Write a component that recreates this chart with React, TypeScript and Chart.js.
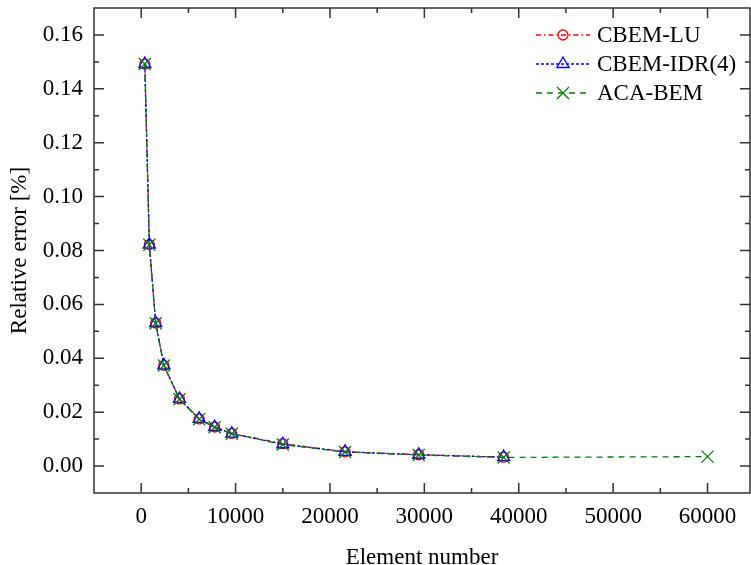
import React, { useEffect, useRef } from 'react';
import { Chart, registerables } from 'chart.js';

Chart.register(...registerables);

// ---- data ----
const elementNumbers = [384, 864, 1536, 2400, 4056, 6144, 7776, 9600, 15000, 21600, 29400, 38400];
const acaElementNumbers = [384, 864, 1536, 2400, 4056, 6144, 7776, 9600, 15000, 21600, 29400, 38400, 60000];
const luErrors = [0.1492, 0.0822, 0.0531, 0.0374, 0.0249, 0.0175, 0.0145, 0.0121, 0.0083, 0.0053, 0.0042, 0.0033];
const idrErrors = [0.1492, 0.0822, 0.0531, 0.0374, 0.0249, 0.0175, 0.0145, 0.012, 0.0081, 0.0053, 0.0042, 0.0033];
const acaErrors = [0.1492, 0.0821, 0.053, 0.0373, 0.0248, 0.0174, 0.0144, 0.012, 0.008, 0.0052, 0.0041, 0.0032, 0.0035];

const seriesNames = ['CBEM-LU', 'CBEM-IDR(4)', 'ACA-BEM'];

const xTicks = [0, 10000, 20000, 30000, 40000, 50000, 60000];
const xMinorTicks = [5000, 15000, 25000, 35000, 45000, 55000];
const yTicks = [0, 0.02, 0.04, 0.06, 0.08, 0.1, 0.12, 0.14, 0.16];
const yMinorTicks = [0.01, 0.03, 0.05, 0.07, 0.09, 0.11, 0.13, 0.15];

const FONT = 'Liberation Serif, "Times New Roman", serif';
const FONT_SIZE = 23;
const AXIS_COLOR = '#333333';

const RED = '#ff0000';
const BLUE = '#0000ff';
const GREEN = '#008000';

const legendItems = [
  { color: RED, dash: [5, 3, 1.5, 3], marker: 'circle' },
  { color: BLUE, dash: [3, 2], marker: 'triangle' },
  { color: GREEN, dash: [6, 5], marker: 'cross' },
];

function drawMarker(ctx: CanvasRenderingContext2D, kind: string, x: number, y: number) {
  ctx.setLineDash([]);
  ctx.beginPath();
  if (kind === 'circle') {
    ctx.arc(x, y, 5, 0, Math.PI * 2);
  } else if (kind === 'triangle') {
    const r = 7;
    for (let i = 0; i < 3; i++) {
      const a = (i * 2 * Math.PI) / 3;
      const px = x + Math.sin(a) * r;
      const py = y - Math.cos(a) * r;
      if (i === 0) ctx.moveTo(px, py);
      else ctx.lineTo(px, py);
    }
    ctx.closePath();
  } else {
    const h = 6;
    ctx.moveTo(x - h, y - h);
    ctx.lineTo(x + h, y + h);
    ctx.moveTo(x - h, y + h);
    ctx.lineTo(x + h, y - h);
  }
  ctx.stroke();
}

const framePlugin = {
  id: 'frameAndLegend',
  afterDraw(chart: any) {
    const ctx: CanvasRenderingContext2D = chart.ctx;
    const { left, right, top, bottom } = chart.chartArea;
    const xs = chart.scales.x;
    const ys = chart.scales.y;
    ctx.save();
    ctx.strokeStyle = AXIS_COLOR;
    ctx.lineWidth = 1.5;
    ctx.setLineDash([]);
    ctx.strokeRect(left, top, right - left, bottom - top);
    ctx.beginPath();
    const major = 10;
    const minor = 5;
    xTicks.forEach((v) => {
      const p = xs.getPixelForValue(v);
      ctx.moveTo(p, bottom);
      ctx.lineTo(p, bottom - major);
      ctx.moveTo(p, top);
      ctx.lineTo(p, top + major);
    });
    xMinorTicks.forEach((v) => {
      const p = xs.getPixelForValue(v);
      ctx.moveTo(p, bottom);
      ctx.lineTo(p, bottom - minor);
      ctx.moveTo(p, top);
      ctx.lineTo(p, top + minor);
    });
    yTicks.forEach((v) => {
      const p = ys.getPixelForValue(v);
      ctx.moveTo(left, p);
      ctx.lineTo(left + major, p);
      ctx.moveTo(right, p);
      ctx.lineTo(right - major, p);
    });
    yMinorTicks.forEach((v) => {
      const p = ys.getPixelForValue(v);
      ctx.moveTo(left, p);
      ctx.lineTo(left + minor, p);
      ctx.moveTo(right, p);
      ctx.lineTo(right - minor, p);
    });
    ctx.stroke();

    // legend
    const lx0 = 536;
    const lx1 = 590;
    const rowY = [35, 64, 93];
    ctx.font = FONT_SIZE + 'px ' + FONT;
    ctx.textBaseline = 'middle';
    ctx.textAlign = 'left';
    legendItems.forEach((it, i) => {
      const y = rowY[i];
      ctx.strokeStyle = it.color;
      ctx.lineWidth = 1.3;
      ctx.setLineDash(it.dash);
      ctx.beginPath();
      ctx.moveTo(lx0, y);
      ctx.lineTo(lx1, y);
      ctx.stroke();
      drawMarker(ctx, it.marker, (lx0 + lx1) / 2, y);
      ctx.fillStyle = '#000';
      ctx.fillText(seriesNames[i], 597, y + 1);
    });
    ctx.restore();
  },
};

export default function App() {
  const ref = useRef<HTMLCanvasElement | null>(null);
  useEffect(() => {
    document.body.style.margin = '0';
    const canvas = ref.current;
    if (!canvas) return;
    const font = { family: FONT, size: FONT_SIZE };
    const zeroPad = (s: any) => {
      s.paddingTop = 0;
      s.paddingBottom = 0;
      s.paddingLeft = 0;
      s.paddingRight = 0;
    };
    const chart = new Chart(canvas, {
      type: 'line',
      data: {
        datasets: [
          {
            label: seriesNames[0],
            data: elementNumbers.map((x, i) => ({ x, y: luErrors[i] })),
            borderColor: RED,
            borderWidth: 1.3,
            borderDash: [5, 3, 1.5, 3],
            pointStyle: 'circle',
            pointRadius: 5,
            pointBorderColor: RED,
            pointBackgroundColor: 'rgba(0,0,0,0)',
            pointBorderWidth: 1.3,
            fill: false,
            tension: 0,
            order: 2,
          },
          {
            label: seriesNames[1],
            data: elementNumbers.map((x, i) => ({ x, y: idrErrors[i] })),
            borderColor: BLUE,
            borderWidth: 1.3,
            borderDash: [3, 2],
            pointStyle: 'triangle',
            pointRadius: 7,
            pointBorderColor: BLUE,
            pointBackgroundColor: 'rgba(0,0,0,0)',
            pointBorderWidth: 1.3,
            fill: false,
            tension: 0,
            order: 1,
          },
          {
            label: seriesNames[2],
            data: acaElementNumbers.map((x, i) => ({ x, y: acaErrors[i] })),
            borderColor: GREEN,
            borderWidth: 1.3,
            borderDash: [6, 5],
            pointStyle: 'crossRot',
            pointRadius: 8.5,
            pointBorderColor: GREEN,
            pointBackgroundColor: 'rgba(0,0,0,0)',
            pointBorderWidth: 1.3,
            fill: false,
            tension: 0,
            order: 0,
          },
        ],
      },
      options: {
        animation: false,
        responsive: false,
        maintainAspectRatio: false,
        layout: { autoPadding: false, padding: { top: 8, right: 1, left: 0, bottom: 0 } },
        plugins: { legend: { display: false }, tooltip: { enabled: false } },
        scales: {
          x: {
            type: 'linear',
            min: -5000,
            max: 64500,
            afterBuildTicks: (s: any) => {
              s.ticks = xTicks.map((v) => ({ value: v }));
            },
            afterFit: (s: any) => {
              s.height = 72;
              zeroPad(s);
            },
            grid: { display: false, drawTicks: false },
            border: { display: false },
            ticks: {
              padding: 10,
              color: '#000',
              font,
              maxRotation: 0,
              callback: (v: any) => String(v),
            },
            title: {
              display: true,
              text: 'Element number',
              color: '#000',
              font,
              padding: { top: 0, bottom: -7 },
            },
          },
          y: {
            type: 'linear',
            min: -0.01,
            max: 0.17,
            afterBuildTicks: (s: any) => {
              s.ticks = yTicks.map((v) => ({ value: v }));
            },
            afterFit: (s: any) => {
              s.width = 94;
              zeroPad(s);
            },
            grid: { display: false, drawTicks: false },
            border: { display: false },
            ticks: {
              padding: 11,
              color: '#000',
              font,
              callback: (v: any) => Number(v).toFixed(2),
            },
            title: {
              display: true,
              text: 'Relative error [%]',
              color: '#000',
              font,
              padding: { top: 6, bottom: 0 },
            },
          },
        },
      },
      plugins: [framePlugin],
    } as any);
    return () => chart.destroy();
  }, []);
  return (
    <div style={{ width: 751, height: 565 }}>
      <canvas ref={ref} width={751} height={565} style={{ display: 'block', width: 751, height: 565 }} />
    </div>
  );
}
